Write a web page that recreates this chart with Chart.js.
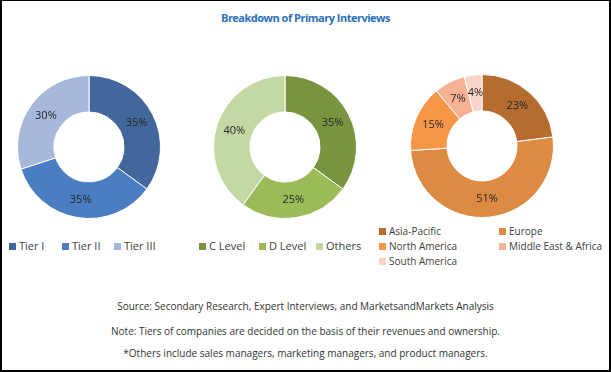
<!DOCTYPE html>
<html lang="en">
<head>
<meta charset="UTF-8">
<title>Breakdown of Primary Interviews</title>
<style>
    body {
        margin: 0;
        background: #fff;
        font-family: "Open Sans", Arial, sans-serif;
    }
    #frame {
        position: relative;
        width: 611px;
        height: 372px;
        box-sizing: border-box;
        border: 2px solid #000;
        border-top-width: 1px;
        overflow: hidden;
    }
    #title {
        position: absolute;
        left: 0; right: 0; top: 9px;
        text-align: center;
        color: #2A70B8;
        font-weight: bold;
        font-size: 11px;
        letter-spacing: -0.5px;
    }
    .pie {
        position: absolute;
        width: 144px;
        height: 144px;
    }
    .legend {
        position: absolute;
        font-size: 11px;
        color: #404040;
    }
    #region-legend {
        font-size: 10px;
    }
    .legend .item {
        position: absolute;
        white-space: nowrap;
        line-height: 14px;
    }
    .legend .sw {
        display: inline-block;
        width: 7px;
        height: 7px;
        margin-right: 3px;
        vertical-align: 0px;
    }
    .note {
        position: absolute;
        left: 0; right: 0;
        text-align: center;
        font-size: 10px;
        color: #333;
    }
</style>
</head>
<body>
<div id="frame">
    <div id="title">Breakdown of Primary Interviews</div>

    <div class="pie" style="left:15px; top:74px;"><canvas id="tier-chart"></canvas></div>
    <div class="pie" style="left:211px; top:74px;"><canvas id="level-chart"></canvas></div>
    <div class="pie" style="left:408px; top:73px;"><canvas id="region-chart"></canvas></div>

    <div class="legend" id="tier-legend"></div>
    <div class="legend" id="level-legend"></div>
    <div class="legend" id="region-legend"></div>

    <div class="note" style="top:298px;">Source: Secondary Research, Expert Interviews, and MarketsandMarkets Analysis</div>
    <div class="note" style="top:323px;">Note: Tiers of companies are decided on the basis of their revenues and ownership.</div>
    <div class="note" style="top:345px;">*Others include sales managers, marketing managers, and product managers.</div>
</div>

<script src="https://cdn.jsdelivr.net/npm/chart.js"></script>
<script>
    // company tier
    const tierLabels = ['Tier I', 'Tier II', 'Tier III'];
    const tierValues = [35, 35, 30];
    const tierColors = ['#41679C', '#4B7DC2', '#A7B9DA'];

    // designation
    const levelLabels = ['C Level', 'D Level', 'Others'];
    const levelValues = [35, 25, 40];
    const levelColors = ['#78943F', '#9BBB59', '#C4D8A4'];

    // region
    const regionLabels = ['Asia-Pacific', 'Europe', 'North America', 'Middle East & Africa', 'South America'];
    const regionValues = [23, 51, 15, 7, 4];
    const regionColors = ['#B56C2F', '#DD8A42', '#F79646', '#F6B293', '#FAD4C8'];

    // percent text in the middle of each ring segment
    const pctLabels = {
        id: 'pctLabels',
        afterDatasetsDraw(chart) {
            const ctx = chart.ctx;
            const ds = chart.data.datasets[0];
            ctx.save();
            ctx.font = '11px "Open Sans", Arial, sans-serif';
            ctx.fillStyle = '#262626';
            ctx.textAlign = 'center';
            ctx.textBaseline = 'middle';
            chart.getDatasetMeta(0).data.forEach((arc, i) => {
                const p = arc.tooltipPosition();
                ctx.fillText(ds.data[i] + '%', p.x, p.y);
            });
            ctx.restore();
        }
    };

    function makeDonut(id, labels, values, colors) {
        return new Chart(document.getElementById(id), {
            type: 'doughnut',
            data: {
                labels: labels,
                datasets: [{
                    data: values,
                    backgroundColor: colors,
                    borderColor: '#fff',
                    borderWidth: 1
                }]
            },
            options: {
                responsive: true,
                maintainAspectRatio: false,
                devicePixelRatio: 1,
                animation: false,
                cutout: '49%',
                plugins: {
                    legend: { display: false },
                    tooltip: { enabled: false }
                }
            },
            plugins: [pctLabels]
        });
    }

    makeDonut('tier-chart', tierLabels, tierValues, tierColors);
    makeDonut('level-chart', levelLabels, levelValues, levelColors);
    makeDonut('region-chart', regionLabels, regionValues, regionColors);

    function makeLegend(id, labels, colors, spots) {
        const box = document.getElementById(id);
        labels.forEach((name, i) => {
            const el = document.createElement('div');
            el.className = 'item';
            el.style.left = spots[i][0] + 'px';
            el.style.top = spots[i][1] + 'px';
            el.innerHTML = '<span class="sw" style="background:' + colors[i] + '"></span>' + name;
            box.appendChild(el);
        });
    }

    makeLegend('tier-legend', tierLabels, tierColors, [[7, 238], [60, 238], [112, 238]]);
    makeLegend('level-legend', levelLabels, levelColors, [[197, 238], [257, 238], [314, 238]]);
    makeLegend('region-legend', regionLabels, regionColors, [[377, 223], [497, 223], [377, 238], [497, 238], [377, 253]]);
</script>
</body>
</html>
